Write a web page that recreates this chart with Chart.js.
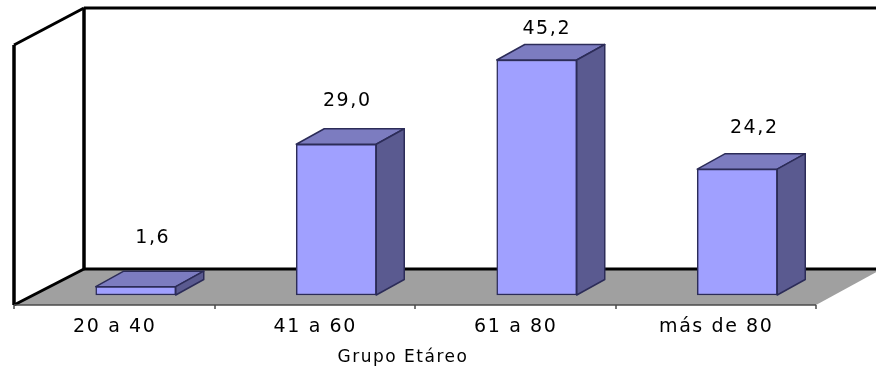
<!DOCTYPE html>
<html lang="es">
<head>
    <meta charset="UTF-8">
    <title>Grupo Etáreo</title>
    <script src="https://cdn.jsdelivr.net/npm/chart.js"></script>
    <style>
        html, body { margin: 0; padding: 0; background: #ffffff; }
        canvas { display: block; }
    </style>
</head>
<body>
    <canvas id="chart" width="876" height="370"></canvas>
    <script>
        // Data
        var categories = ['20 a 40', '41 a 60', '61 a 80', 'más de 80'];
        var values = [1.6, 29.0, 45.2, 24.2];
        var axisTitle = 'Grupo Etáreo';

        // Label nudges relative to the bar top (the original labels are not evenly placed)
        var labelDx = [17, 11, 10, 17];
        var labelDy = [-49, -43, -31, -41];

        var textFont = '19px "DejaVu Sans"';
        var textSpacing = '1.6px';
        var depthX = 28, depthY = 15.5;

        function poly(ctx, pts, fill, stroke, lw) {
            ctx.beginPath();
            ctx.moveTo(pts[0][0], pts[0][1]);
            for (var i = 1; i < pts.length; i++) ctx.lineTo(pts[i][0], pts[i][1]);
            ctx.closePath();
            if (fill) { ctx.fillStyle = fill; ctx.fill(); }
            if (stroke) { ctx.strokeStyle = stroke; ctx.lineWidth = lw; ctx.lineJoin = 'round'; ctx.stroke(); }
        }

        function line(ctx, x1, y1, x2, y2, color, lw) {
            ctx.beginPath();
            ctx.moveTo(x1, y1);
            ctx.lineTo(x2, y2);
            ctx.strokeStyle = color;
            ctx.lineWidth = lw;
            ctx.stroke();
        }

        // Walls, floor, bar depth faces, value labels
        var box3d = {
            id: 'box3d',
            beforeDraw: function (chart) {
                var ctx = chart.ctx;
                ctx.save();
                poly(ctx, [[14, 305], [84, 269], [882, 269], [816, 305]], '#a0a0a0');
                line(ctx, 84, 269, 876, 269, '#000000', 3);
                line(ctx, 84, 8, 876, 8, '#000000', 3);
                line(ctx, 84, 8, 84, 269, '#000000', 3.5);
                line(ctx, 14, 45, 84, 8, '#000000', 3);
                line(ctx, 14, 45, 14, 305, '#000000', 3.5);
                line(ctx, 14, 305, 84, 269, '#000000', 3);
                line(ctx, 14, 305, 816, 305, '#4a4a4a', 1.5);
                [14, 215, 415, 616, 816].forEach(function (x) {
                    line(ctx, x, 305, x, 309, '#4a4a4a', 1.5);
                });
                ctx.restore();
                ctx.letterSpacing = textSpacing;
            },
            beforeDatasetsDraw: function (chart) {
                var ctx = chart.ctx;
                chart.getDatasetMeta(0).data.forEach(function (bar) {
                    var l = bar.x - bar.width / 2, r = bar.x + bar.width / 2;
                    poly(ctx, [[l, bar.y], [l + depthX, bar.y - depthY], [r + depthX, bar.y - depthY], [r, bar.y]], '#7c7cc0', '#2c2c58', 1.5);
                    poly(ctx, [[r, bar.y], [r + depthX, bar.y - depthY], [r + depthX, bar.base - depthY], [r, bar.base]], '#5a5a90', '#2c2c58', 1.5);
                });
            },
            afterDraw: function (chart) {
                var ctx = chart.ctx;
                ctx.save();
                ctx.font = textFont;
                ctx.letterSpacing = textSpacing;
                ctx.fillStyle = '#000000';
                ctx.textAlign = 'center';
                ctx.textBaseline = 'middle';
                chart.getDatasetMeta(0).data.forEach(function (bar, i) {
                    ctx.fillText(values[i].toFixed(1).replace('.', ','), bar.x + labelDx[i], bar.y + labelDy[i]);
                });
                ctx.font = '17px "DejaVu Sans"';
                ctx.letterSpacing = '1.5px';
                ctx.fillText(axisTitle, 403, 358);
                ctx.restore();
            }
        };

        new Chart(document.getElementById('chart'), {
            type: 'bar',
            data: {
                labels: categories,
                datasets: [{
                    data: values,
                    backgroundColor: '#a0a0ff',
                    borderColor: '#2c2c58',
                    borderWidth: 1.5,
                    borderSkipped: false,
                    barThickness: 80
                }]
            },
            plugins: [box3d],
            options: {
                responsive: false,
                animation: false,
                layout: { padding: { left: 35.5, right: 38.5, top: 8, bottom: 0 } },
                plugins: { legend: { display: false }, tooltip: { enabled: false } },
                scales: {
                    x: {
                        grid: { display: false },
                        border: { display: false },
                        afterFit: function (scale) { scale.height = 65; },
                        ticks: {
                            color: '#000000',
                            font: { family: '"DejaVu Sans"', size: 19 },
                            labelOffset: -21,
                            padding: 3,
                            maxRotation: 0
                        }
                    },
                    y: { display: false, min: -1.92, max: 55.2 }
                }
            }
        });
    </script>
</body>
</html>
